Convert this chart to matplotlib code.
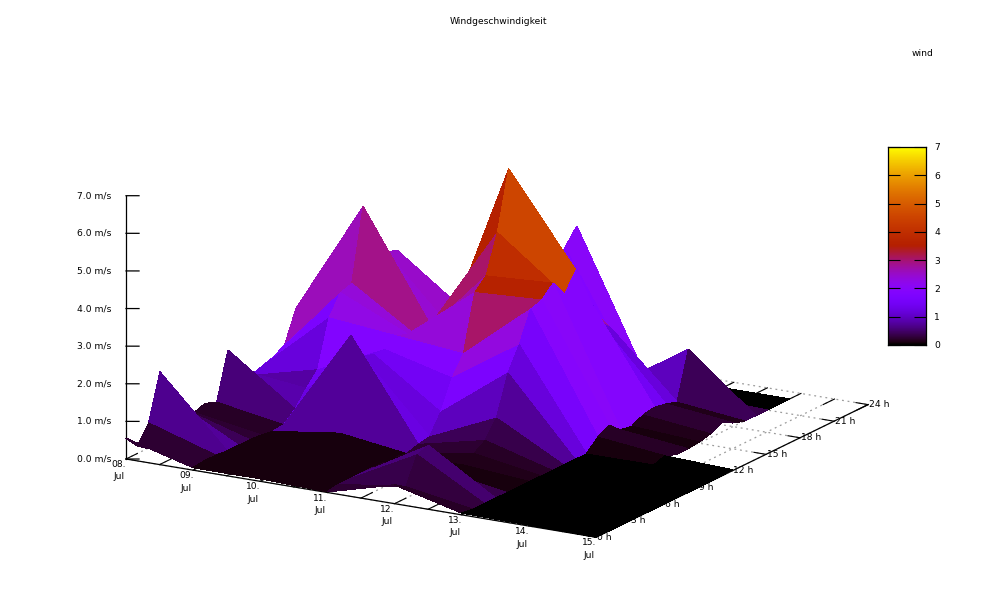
import numpy as np
import matplotlib
matplotlib.use("Agg")
import matplotlib.pyplot as plt
from matplotlib.colors import ListedColormap
from mpl_toolkits.mplot3d import proj3d
from mpl_toolkits.mplot3d.art3d import Poly3DCollection

nan = float('nan')
hours = list(range(24))
days = [8, 9, 10, 11, 12, 13, 14, 15]
day_labels = ['08.\nJul', '09.\nJul', '10.\nJul', '11.\nJul', '12.\nJul', '13.\nJul', '14.\nJul', '15.\nJul']
half_days = [8, 8.5, 9, 9.5, 10, 10.5, 11, 11.5, 12, 12.5, 13, 13.5, 14, 14.5, 15]
hour_ticks = [0, 3, 6, 9, 12, 15, 18, 21, 24]
z_ticks = [0, 1, 2, 3, 4, 5, 6, 7]

wind_08 = [.55, .2, .66, 1.87, 1.0, .6, .35, .45, .33, 1.57, .9, .6, .7, .8, .97, 1.8, 1.9, 1.7, 1.4, 1.1, .8, .6, .4, .3]
wind_09 = [.07, .1, .1, .07, .07, .07, .05, 0, .03, .3, .7, 1.05, 2.28, 2.8, 2.9, 4.8, 3.7, 3.3, 3.2, 2.4, 1.5, 1.0, .7, .5]
wind_10 = [.07, .07, .07, .07, .07, .08, .1, .25, 2.7, 2.0, 1.9, 1.88, 2.1, 2.0, 1.75, 1.95, 1.3, 1.5, 1.9, 1.2, .7, .4, .3, .2]
wind_11 = [.02, .07, .07, .07, .07, .07, .06, 0, .1, .15, .66, 1.42, 1.92, 3.4, 3.7, 4.7, 6.25, 4.6, 3.5, 3.2, 3.3, 3.4, 3.85, .1]
wind_12 = [.5, .3, 1.0, 1.1, .3, .1, .15, .3, .5, .95, 2.0, 2.6, 3.4, 3.5, 3.8, 3.35, 3.85, 3.0, 2.2, 1.9, .3, .4, .25, .1]
wind_13 = [.05, 0, 0, 0, 0, 0, 0, 0, 0, 0, 0, 0, .3, .47, .2, .15, .3, .36, .3, .2, 1.46, .05, .05, 0]
wind_14 = [.03, 0, 0, 0, 0, 0, 0, 0, 0, 0, 0, 0, .1, 0, 0, .03, .1, .25, .1, 0, 0, 0, 0, 0]
wind_15 = [0, 0, 0, 0, 0, 0, 0, 0, 0, 0, 0, 0, .03, nan, nan, nan, nan, nan, nan, nan, nan, nan, nan, nan]

Z = np.array([wind_08, wind_09, wind_10, wind_11, wind_12, wind_13, wind_14, wind_15])

# gnuplot pm3d palette rgbformulae 7,5,15
t = np.linspace(0, 1, 128)
palette = ListedColormap(np.clip(np.c_[np.sqrt(t), t ** 3, np.sin(2 * np.pi * t)], 0, 1))
zmax = 7.0

plt.rcParams['font.family'] = 'DejaVu Sans'
FS = 6.6
fig = plt.figure(figsize=(10, 6), dpi=100)
ax = fig.add_axes([0.2, 0, 0.6, 1], projection='3d', proj_type='ortho', computed_zorder=False)
ax.set_box_aspect((543, 538, 274))
ax.view_init(elev=16.54, azim=-59.7)
ax.set_xlim(8, 15)
ax.set_ylim(0, 24)
ax.set_zlim(0, 7)
ax.set_axis_off()
ax.patch.set_alpha(0)


def proj2d(x, y, z):
    X, Y, _ = proj3d.proj_transform(x, y, z, ax.get_proj())
    return X, Y


def label(x, y, z, s, dx, dy, **kw):
    ax.annotate(s, xy=proj2d(x, y, z), xycoords='data', xytext=(dx, dy), textcoords='offset pixels',
                fontsize=FS, zorder=3, annotation_clip=False, **kw)


GREY = '#9c9c9c'
DOTS = (0, (1.5, 3))
for d in half_days:
    ax.plot([d, d], [0, 24], [0, 0], color=GREY, lw=0.9, ls=DOTS, zorder=1)
    ax.plot([d, d], [0, 1], [0, 0], color='black', lw=0.8, zorder=2)
    ax.plot([d, d], [23, 24], [0, 0], color='black', lw=0.8, zorder=2)
for h in hour_ticks:
    ax.plot([8, 15], [h, h], [0, 0], color=GREY, lw=0.9, ls=DOTS, zorder=1)
    ax.plot([14.82, 15], [h, h], [0, 0], color='black', lw=0.8, zorder=2)
ax.plot([8, 15], [0, 0], [0, 0], color='black', lw=0.9, zorder=2)
ax.plot([15, 15], [0, 24], [0, 0], color='black', lw=0.9, zorder=2)
ax.plot([8, 8], [0, 0], [0, 7], color='black', lw=0.9, zorder=2)
for z in z_ticks:
    ax.plot([8, 8.145], [0, 0.29], [z, z], color='black', lw=0.9, zorder=2)
    label(8, 0, z, f'{z:.1f} m/s', -15, 0, ha='right', va='center')
for d, lab in zip(days, day_labels):
    label(d, 0, 0, lab, -7, -1, ha='center', va='top', linespacing=1.5)
for h in hour_ticks:
    label(15, h, 0, f'{h} h', 1, 0, ha='left', va='center')

polys, cols = [], []
for i in range(len(days) - 1):
    for j in range(len(hours) - 1):
        q = [Z[i, j], Z[i + 1, j], Z[i + 1, j + 1], Z[i, j + 1]]
        if np.isnan(q).any():
            continue
        polys.append([(days[i], hours[j], q[0]), (days[i + 1], hours[j], q[1]),
                      (days[i + 1], hours[j + 1], q[2]), (days[i], hours[j + 1], q[3])])
        cols.append(palette(np.mean(q) / zmax))
surf = Poly3DCollection(polys, facecolors=cols, edgecolors=cols, linewidths=0.25,
                        antialiased=False, zsort='average', zorder=5)
ax.add_collection3d(surf, autolim=False)
ax.set_xlim(8, 15)
ax.set_ylim(0, 24)
ax.set_zlim(0, 7)


def to_px(x, y, z):
    return ax.transData.transform(proj2d(x, y, z))


# fit the 3D box onto the figure: front axis runs from (126,459) to (596,537) in image pixels
target_a = np.array([126.0, 600 - 459.0])
target_b = np.array([596.0, 600 - 537.0])
fig.canvas.draw()
a, b = to_px(8, 0, 0), to_px(15, 0, 0)
S = 600 * np.linalg.norm(target_b - target_a) / np.linalg.norm(b - a)
ax.set_position([0.5 - S / 2000, 0.5 - S / 1200, S / 1000, S / 600])
fig.canvas.draw()
a = to_px(8, 0, 0)
d = target_a - a
ax.set_position([0.5 - S / 2000 + d[0] / 1000, 0.5 - S / 1200 + d[1] / 600, S / 1000, S / 600])

fig.text(498 / 1000, 1 - 22 / 600, 'Windgeschwindigkeit', ha='center', va='center', fontsize=FS)
fig.text(923 / 1000, 1 - 54 / 600, 'wind', ha='center', va='center', fontsize=FS)

cax = fig.add_axes([888 / 1000, 1 - 345 / 600, 38 / 1000, 198 / 600])
cax.imshow(np.linspace(0, 7, 128)[:, None], origin='lower', aspect='auto', cmap=palette,
           extent=[0, 1, 0, 7], vmin=0, vmax=7)
cax.set_xticks([])
cax.set_yticks(z_ticks)
cax.yaxis.tick_right()
cax.tick_params(axis='y', which='both', direction='in', left=True, right=True, length=8.5, width=0.8,
                labelsize=FS, pad=6)
for s in cax.spines.values():
    s.set_linewidth(0.9)

fig.savefig('out.png', dpi=100)
